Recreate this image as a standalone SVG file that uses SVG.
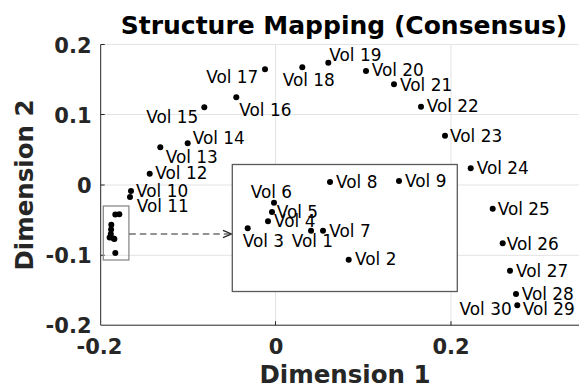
<svg xmlns="http://www.w3.org/2000/svg" width="579" height="388" viewBox="0 0 579 388">
<style>
.grid{stroke:#e3e3e3;stroke-width:1;fill:none}
.axis{stroke:#262626;stroke-width:1;fill:none}
.tick{font-family:"DejaVu Sans",sans-serif;font-weight:bold;font-size:21px;fill:#262626}
.lab{font-family:"DejaVu Sans",sans-serif;font-weight:bold;font-size:24.5px;fill:#262626}
.title{font-family:"DejaVu Sans",sans-serif;font-weight:bold;font-size:25px;fill:#000}
.v{font-family:"DejaVu Sans",sans-serif;font-size:16.9px;fill:#000}
.d{fill:#000}
</style>
<defs>
<marker id="ah" viewBox="0 0 10 10" refX="9.5" refY="5" markerWidth="10" markerHeight="10" markerUnits="userSpaceOnUse" orient="auto">
<path d="M1,1.3 L9.5,5 L1,8.7" fill="none" stroke="#262626" stroke-width="1.3"/>
</marker>
</defs>
<rect width="579" height="388" fill="#fff"/>
<g id="axes">
<path class="grid" d="M100.5,44.5H579M100.5,114.5H579M100.5,185H579M100.5,255.3H579M275.5,44.5V325M451,44.5V325"/>
<path class="axis" d="M100.7,44.5V325.2H579"/>
<path class="axis" d="M100.7,44.5h4M100.7,114.5h4M100.7,185h4M100.7,255.3h4M275.5,325.2v-4M451,325.2v-4"/>
<text class="tick" x="91.5" y="52.5" text-anchor="end">0.2</text>
<text class="tick" x="91.5" y="122.5" text-anchor="end">0.1</text>
<text class="tick" x="91.5" y="193" text-anchor="end">0</text>
<text class="tick" x="91.5" y="263" text-anchor="end">-0.1</text>
<text class="tick" x="91.5" y="333" text-anchor="end">-0.2</text>
<text class="tick" x="99.5" y="354" text-anchor="middle">-0.2</text>
<text class="tick" x="276" y="354" text-anchor="middle">0</text>
<text class="tick" x="451" y="354" text-anchor="middle">0.2</text>
<text class="lab" x="345" y="383" text-anchor="middle">Dimension 1</text>
<text class="lab" transform="translate(33,185) rotate(-90)" text-anchor="middle">Dimension 2</text>
<text class="title" x="344" y="33.5" text-anchor="middle">Structure Mapping (Consensus)</text>
</g>
<g id="zoom-source">
<rect x="103.3" y="206" width="25.6" height="54" fill="none" stroke="#8a8a8a" stroke-width="1.3"/>
<circle class="d" cx="111.3" cy="224.7" r="3"/>
<circle class="d" cx="111.1" cy="229.4" r="3"/>
<circle class="d" cx="110.8" cy="234" r="3"/>
<circle class="d" cx="109.6" cy="237.4" r="3"/>
<circle class="d" cx="113.6" cy="238.6" r="3"/>
<circle class="d" cx="114.4" cy="239" r="3"/>
<circle class="d" cx="115.3" cy="253" r="3"/>
<circle class="d" cx="115.3" cy="214.5" r="3"/>
<circle class="d" cx="119.3" cy="214.3" r="3"/>
</g>
<g id="connectors">
<path d="M129.3,234H231.5" fill="none" stroke="#262626" stroke-width="1.2" stroke-dasharray="6.5,4" marker-end="url(#ah)"/>
</g>
<g id="inset">
<rect x="232.3" y="164.5" width="225" height="127" fill="#fff" stroke="#5a5a5a" stroke-width="1.3"/>
</g>
<g id="vol1"><circle class="d" cx="311" cy="230.7" r="3"/><text class="v" x="291.7" y="247.3">Vol 1</text></g>
<g id="vol2"><circle class="d" cx="348.7" cy="259.7" r="3"/><text class="v" x="355" y="265">Vol 2</text></g>
<g id="vol3"><circle class="d" cx="247.7" cy="228.3" r="3"/><text class="v" x="242.7" y="247.3">Vol 3</text></g>
<g id="vol4"><circle class="d" cx="268" cy="221.3" r="3"/><text class="v" x="274" y="227.3">Vol 4</text></g>
<g id="vol5"><circle class="d" cx="272" cy="212" r="3"/><text class="v" x="276.7" y="218.3">Vol 5</text></g>
<g id="vol6"><circle class="d" cx="274" cy="202.7" r="3"/><text class="v" x="250.7" y="197.7">Vol 6</text></g>
<g id="vol7"><circle class="d" cx="323" cy="230.7" r="3"/><text class="v" x="329.3" y="237.3">Vol 7</text></g>
<g id="vol8"><circle class="d" cx="330" cy="182" r="3"/><text class="v" x="336" y="188">Vol 8</text></g>
<g id="vol9"><circle class="d" cx="399" cy="181" r="3"/><text class="v" x="405" y="186.7">Vol 9</text></g>
<g id="vol10"><circle class="d" cx="131" cy="191" r="3"/><text class="v" x="136" y="197.3">Vol 10</text></g>
<g id="vol11"><circle class="d" cx="130" cy="197" r="3"/><text class="v" x="136.7" y="211.7">Vol 11</text></g>
<g id="vol12"><circle class="d" cx="149.7" cy="173.7" r="3"/><text class="v" x="155.3" y="179.3">Vol 12</text></g>
<g id="vol13"><circle class="d" cx="160.3" cy="147.3" r="3"/><text class="v" x="165.7" y="163.3">Vol 13</text></g>
<g id="vol14"><circle class="d" cx="187.7" cy="143.3" r="3"/><text class="v" x="192.7" y="144">Vol 14</text></g>
<g id="vol15"><circle class="d" cx="204.3" cy="107.3" r="3"/><text class="v" x="198.3" y="122.7" text-anchor="end">Vol 15</text></g>
<g id="vol16"><circle class="d" cx="236.3" cy="97.3" r="3"/><text class="v" x="239.3" y="116">Vol 16</text></g>
<g id="vol17"><circle class="d" cx="265" cy="69.3" r="3"/><text class="v" x="258.3" y="82.7" text-anchor="end">Vol 17</text></g>
<g id="vol18"><circle class="d" cx="302.3" cy="67.3" r="3"/><text class="v" x="282.7" y="86">Vol 18</text></g>
<g id="vol19"><circle class="d" cx="328.3" cy="62.7" r="3"/><text class="v" x="329.3" y="60.7">Vol 19</text></g>
<g id="vol20"><circle class="d" cx="366" cy="71" r="3"/><text class="v" x="371.7" y="76">Vol 20</text></g>
<g id="vol21"><circle class="d" cx="394" cy="84.3" r="3"/><text class="v" x="400" y="90.7">Vol 21</text></g>
<g id="vol22"><circle class="d" cx="421" cy="106.7" r="3"/><text class="v" x="426.7" y="112.3">Vol 22</text></g>
<g id="vol23"><circle class="d" cx="445" cy="135.7" r="3"/><text class="v" x="450" y="141.7">Vol 23</text></g>
<g id="vol24"><circle class="d" cx="470.7" cy="168.3" r="3"/><text class="v" x="476.7" y="174">Vol 24</text></g>
<g id="vol25"><circle class="d" cx="492.7" cy="208.7" r="3"/><text class="v" x="497.7" y="215">Vol 25</text></g>
<g id="vol26"><circle class="d" cx="502.7" cy="243.3" r="3"/><text class="v" x="506.7" y="250">Vol 26</text></g>
<g id="vol27"><circle class="d" cx="510" cy="270.7" r="3"/><text class="v" x="516" y="276.7">Vol 27</text></g>
<g id="vol28"><circle class="d" cx="516" cy="294" r="3"/><text class="v" x="521.7" y="300">Vol 28</text></g>
<g id="vol29"><circle class="d" cx="517.3" cy="305.3" r="3"/><text class="v" x="522.7" y="315.3">Vol 29</text></g>
<g id="vol30"><text class="v" x="511.7" y="315.3" text-anchor="end">Vol 30</text></g>
</svg>
